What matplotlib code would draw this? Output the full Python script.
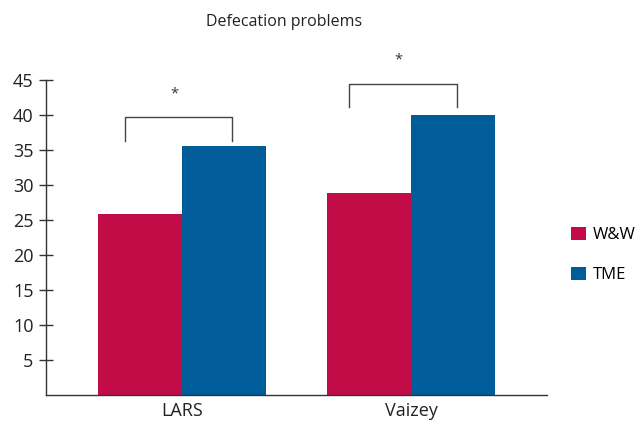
import numpy as np
import matplotlib.pyplot as plt

# scores per scale and operation type
categories = ['LARS', 'Vaizey']
ww_values = [25.9, 28.9]
tme_values = [35.6, 40.0]
series_names = ['W&W', 'TME']

# significance brackets: (left x, right x, leg bottom, bar top, star y)
brackets = [(-0.25, 0.22, 36.3, 39.7, 43.0),
            (0.73, 1.20, 41.1, 44.4, 47.9)]

RED = '#C20C48'
BLUE = '#005D9A'
INK = '#333333'

plt.rcParams['font.family'] = ['Open Sans', 'DejaVu Sans']

fig = plt.figure(figsize=(6.42, 4.24), dpi=100)
ax = fig.add_axes([0.0717, 0.0684, 0.7803, 0.7426])

x = np.arange(len(categories))
w = 0.367
ax.bar(x - w / 2, ww_values, w, color=RED, label=series_names[0])
ax.bar(x + w / 2, tme_values, w, color=BLUE, label=series_names[1])

for x0, x1, y0, y1, ys in brackets:
    ax.plot([x0, x0, x1, x1], [y0, y1, y1, y0], color='#444444', lw=1.0,
            clip_on=False)
    ax.text((x0 + x1) / 2 - 0.02, ys, '*', ha='center', va='center',
            fontsize=10.5, color=INK, clip_on=False)

ax.set_xlim(-0.594, 1.594)
ax.set_ylim(0, 45)
ax.set_yticks(range(5, 50, 5))
ax.set_xticks(x)
ax.set_xticklabels(categories)

for s in ['top', 'right']:
    ax.spines[s].set_visible(False)
for s in ['left', 'bottom']:
    ax.spines[s].set_color(INK)
    ax.spines[s].set_linewidth(1.0)

ax.tick_params(axis='y', direction='inout', length=10, width=1.0,
               color=INK, labelsize=13, labelcolor='#222222', pad=4)
ax.tick_params(axis='x', length=0, labelsize=13, labelcolor='#222222',
               pad=5)

fig.text(0.442, 0.947, 'Defecation problems', ha='center', va='center',
         fontsize=11.5, color='#222222')

ax.legend(loc='center left', bbox_to_anchor=(1.035, 0.445), frameon=False,
          fontsize=12, handlelength=0.9, handleheight=0.9,
          handletextpad=0.4, labelspacing=1.4, borderaxespad=0)

plt.savefig('out.png', dpi=100)
